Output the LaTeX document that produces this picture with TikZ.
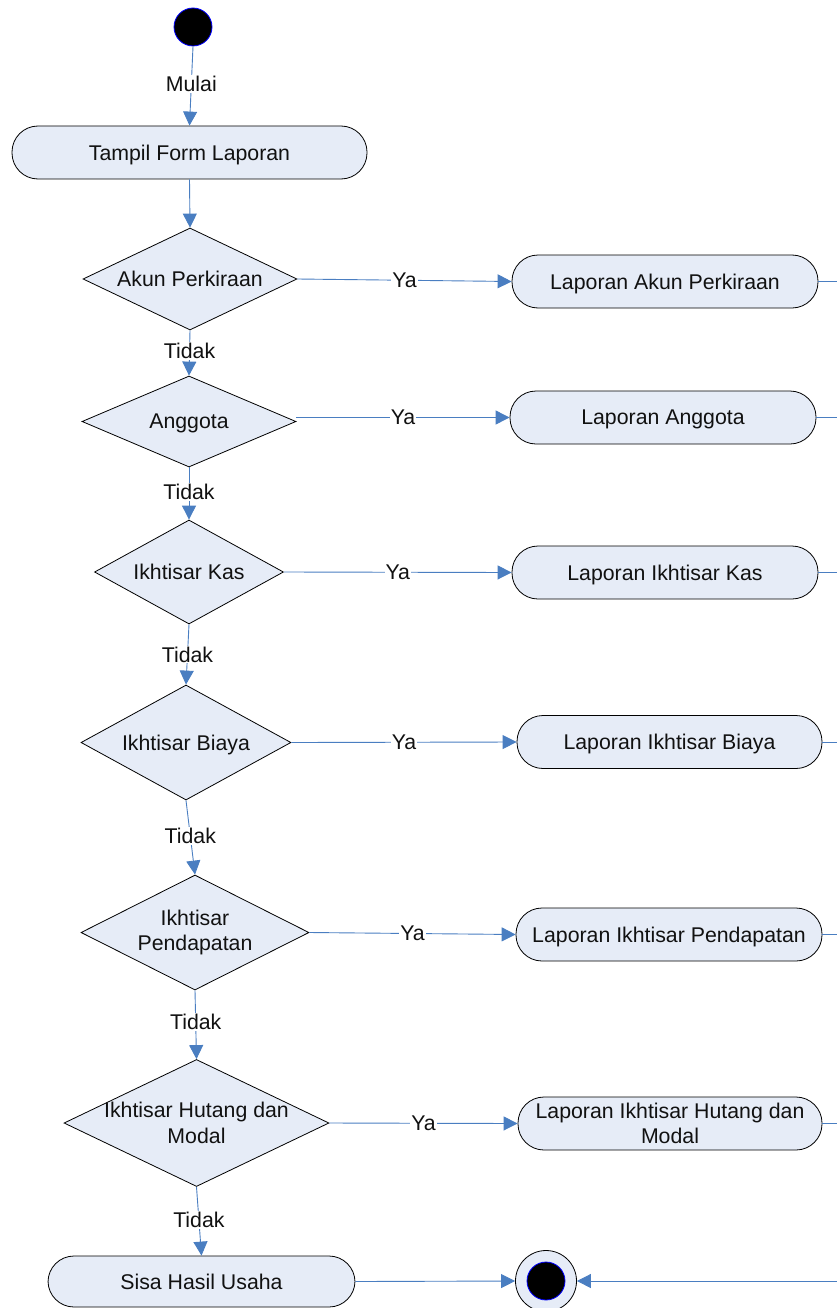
\documentclass[tikz,border=0pt]{standalone}
\usepackage{fontspec}
\setmainfont{Liberation Sans}
\usetikzlibrary{shapes.geometric,arrows.meta}
\definecolor{flowblue}{RGB}{74,126,193}
\definecolor{shapefill}{RGB}{230,236,247}
\definecolor{inkblack}{RGB}{17,17,17}
\begin{document}
\begin{tikzpicture}[x=1pt,y=-1pt,
  every node/.style={font=\fontsize{21.3}{25.5}\selectfont, text=inkblack},
  activity/.style={draw=black, line width=0.8pt, fill=shapefill, rounded corners=26pt,
    inner sep=0pt, minimum height=53pt, align=center},
  oneline/.style={text depth=0pt},
  decision/.style={diamond, draw=black, line width=0.8pt, fill=shapefill, inner sep=0pt},
  dtext/.style={label={[align=center, text=inkblack, text depth=0pt]center:#1}},
  dtexttwo/.style={label={[align=center, text=inkblack]center:#1}},
  wire/.style={draw=flowblue, line width=0.9pt},
  flow/.style={wire, -{Triangle[width=14pt,length=14pt]}},
  lbl/.style={fill=white, inner sep=1pt}]
\useasboundingbox (0,0) rectangle (837,1308);

% start and first activity
\node[circle, fill=black, draw=blue, line width=0.8pt, minimum size=38pt, inner sep=0pt] (start) at (193,27) {};
\node[activity, oneline, minimum width=355pt] (tampil) at (189.5,152.5) {Tampil Form Laporan};

% decisions
\node[decision, minimum width=214pt, minimum height=102pt, dtext={Akun Perkiraan}] (d1) at (190,279) {};
\node[decision, minimum width=214pt, minimum height=91pt, dtext={Anggota}] (d2) at (189,421.5) {};
\node[decision, minimum width=189pt, minimum height=104pt, dtext={Ikhtisar Kas}] (d3) at (189,572) {};
\node[decision, minimum width=210pt, minimum height=115pt, dtext={Ikhtisar Biaya}] (d4) at (186,742.5) {};
\node[decision, minimum width=228pt, minimum height=115pt, dtexttwo={Ikhtisar\\Pendapatan}] (d5) at (195,932.5) {};
\node[decision, minimum width=265pt, minimum height=127pt, dtexttwo={Ikhtisar Hutang dan\\Modal}] (d6) at (196.5,1123) {};

% report activities
\node[activity, oneline, minimum width=306pt] (l1) at (665,281.5) {Laporan Akun Perkiraan};
\node[activity, oneline, minimum width=306pt] (l2) at (663,417.5) {Laporan Anggota};
\node[activity, oneline, minimum width=306pt] (l3) at (665,572.5) {Laporan Ikhtisar Kas};
\node[activity, oneline, minimum width=305pt] (l4) at (669.5,742) {Laporan Ikhtisar Biaya};
\node[activity, oneline, minimum width=306pt] (l5) at (669,934.5) {Laporan Ikhtisar Pendapatan};
\node[activity, minimum width=304pt] (l6) at (670,1123.5) {Laporan Ikhtisar Hutang dan\\Modal};

\node[activity, oneline, minimum width=307pt, minimum height=51pt] (sisa) at (201.5,1281.5) {Sisa Hasil Usaha};

% end node
\node[circle, fill=shapefill, draw=black, line width=0.8pt, minimum size=61pt, inner sep=0pt] (final) at (546,1281) {};
\node[circle, fill=black, draw=blue, line width=0.8pt, minimum size=38pt, inner sep=0pt] (finalin) at (final.center) {};

% main flow
\draw[flow] (start.south) -- node[lbl, pos=0.475] {Mulai} (tampil.north);
\draw[flow] (tampil.south) -- (d1.north);
\draw[flow] (d1.south) -- node[lbl, pos=0.46] {Tidak} (d2.north);
\draw[flow] (d2.south) -- node[lbl, pos=0.47] {Tidak} (d3.north);
\draw[flow] (d3.south) -- node[lbl, pos=0.5] {Tidak} (d4.north);
\draw[flow] (d4.south) -- node[lbl, pos=0.48] {Tidak} (d5.north);
\draw[flow] (d5.south) -- node[lbl, pos=0.46] {Tidak} (d6.north);
\draw[flow] (d6.south) -- node[lbl, pos=0.48] {Tidak} (sisa.north);

% branches to the reports
\draw[flow] (d1.east) -- node[lbl] {Ya} (l1.west);
\draw[flow] ([yshift=4pt]d2.east) -- node[lbl] {Ya} (l2.west);
\draw[flow] (d3.east) -- node[lbl] {Ya} (l3.west);
\draw[flow] (d4.east) -- node[lbl] {Ya} (l4.west);
\draw[flow] (d5.east) -- node[lbl] {Ya} (l5.west);
\draw[flow] (d6.east) -- node[lbl] {Ya} (l6.west);

% report outputs leaving to the right
\coordinate (o1) at (837,281.5);
\coordinate (o2) at (837,417.5);
\coordinate (o3) at (837,572.5);
\coordinate (o4) at (837,742);
\coordinate (o5) at (837,934.5);
\coordinate (o6) at (837,1123.5);
\coordinate (back) at (837,1281);
\draw[wire] (l1.east) -- (o1);
\draw[wire] (l2.east) -- (o2);
\draw[wire] (l3.east) -- (o3);
\draw[wire] (l4.east) -- (o4);
\draw[wire] (l5.east) -- (o5);
\draw[wire] (l6.east) -- (o6);

% into the end node
\draw[flow] (sisa.east) -- (final.west);
\draw[flow] (back) -- (final.east);
\end{tikzpicture}
\end{document}
